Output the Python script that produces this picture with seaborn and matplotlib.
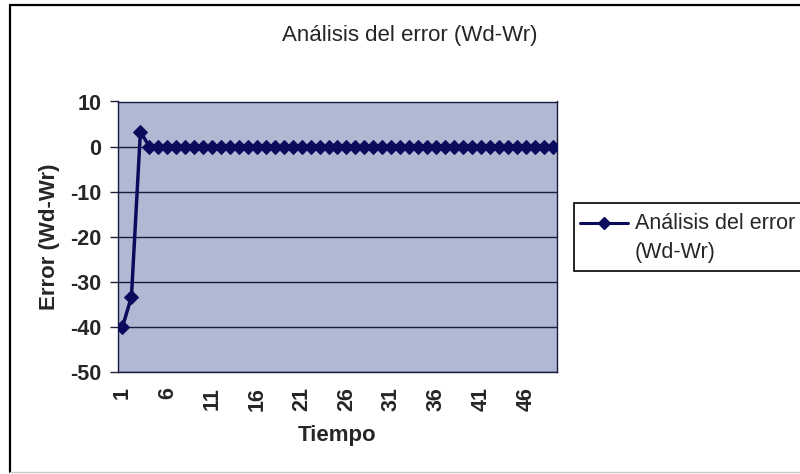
import matplotlib
matplotlib.use("Agg")
import matplotlib.pyplot as plt
import seaborn as sns
import pandas as pd
from matplotlib.lines import Line2D
from matplotlib.patches import Rectangle

# ---- data ----
tiempo = list(range(1, 50))
error = [-40, -33.3, 3.3,
         0, 0, 0, 0, 0, 0, 0, 0, 0, 0,
         0, 0, 0, 0, 0, 0, 0, 0, 0, 0,
         0, 0, 0, 0, 0, 0, 0, 0, 0, 0,
         0, 0, 0, 0, 0, 0, 0, 0, 0, 0,
         0, 0, 0, 0, 0, 0]
xticks = [1, 6, 11, 16, 21, 26, 31, 36, 41, 46]
yticks = [10, 0, -10, -20, -30, -40, -50]
title = "Análisis del error (Wd-Wr)"
series_label = "Análisis del error\n(Wd-Wr)"

df = pd.DataFrame({"Tiempo": tiempo, "Error": error})

sns.set_theme(style="white")
plt.rcParams["font.family"] = ["Liberation Sans", "DejaVu Sans"]

W, H = 800, 474
fig = plt.figure(figsize=(8, 4.74), dpi=100)
fig.patch.set_facecolor("white")

# outer chart border (top/left black, bottom light gray, right cut off)
fig.add_artist(Line2D([10 / W, 1.0], [1 - 5 / H, 1 - 5 / H], color="black", lw=1.6, transform=fig.transFigure))
fig.add_artist(Line2D([10 / W, 10 / W], [1 - 5 / H, 1 - 472 / H], color="black", lw=1.6, transform=fig.transFigure))
fig.add_artist(Line2D([10 / W, 1.0], [1 - 472 / H, 1 - 472 / H], color="#c8c8c8", lw=1.0, transform=fig.transFigure))

left, right, top, bottom = 118, 557, 101.5, 372
ax = fig.add_axes([left / W, 1 - bottom / H, (right - left) / W, (bottom - top) / H])
ax.set_facecolor("#b0b9d3")

line_color = "#0b0b5e"
sns.lineplot(data=df, x="Tiempo", y="Error", ax=ax, color=line_color, lw=2.5,
             marker="D", markersize=7.5, markeredgecolor=line_color,
             markerfacecolor=line_color, legend=False, zorder=3)

ax.set_xlim(0.5, len(tiempo) + 0.5)
ax.set_ylim(-50, 10)
ax.set_yticks(yticks)
ax.set_yticklabels([str(v) for v in yticks], fontsize=15.5, fontweight="bold")
ax.set_xticks(xticks)
ax.set_xticklabels([str(v) for v in xticks], fontsize=15.5, fontweight="bold", rotation=90)
ax.tick_params(axis="y", length=6, width=1, color="#202040", direction="out", left=True, pad=6)
ax.tick_params(axis="x", length=0, pad=11)

ax.grid(axis="y", color="#1a1a40", lw=1.0)
ax.grid(axis="x", visible=False)
for s in ax.spines.values():
    s.set_visible(True)
    s.set_color("#1a1a40")
    s.set_linewidth(1.0)

ax.set_xlabel("Tiempo", fontsize=16, fontweight="bold", labelpad=10)
ax.set_ylabel("Error (Wd-Wr)", fontsize=16, fontweight="bold", labelpad=7)

fig.text(410 / W, 1 - 35 / H, title, ha="center", va="center", fontsize=16)

# legend box (extends past right edge)
leg_left = 574
box = Rectangle((leg_left / W, 1 - 271 / H), (830 - leg_left) / W, (271 - 203) / H,
                transform=fig.transFigure, facecolor="white", edgecolor="black", lw=1.2, zorder=5)
fig.add_artist(box)
fig.add_artist(Line2D([580 / W, 628 / W], [1 - 223 / H, 1 - 223 / H], color=line_color, lw=2.2,
                      transform=fig.transFigure, zorder=6))
fig.add_artist(Line2D([604 / W], [1 - 223 / H], color=line_color, marker="D", markersize=6.5,
                      linestyle="none", transform=fig.transFigure, zorder=6))
fig.text(635 / W, 1 - 238 / H, series_label, ha="left", va="center", fontsize=15.5,
         linespacing=1.45, zorder=7)

fig.savefig("out.png", dpi=100)
